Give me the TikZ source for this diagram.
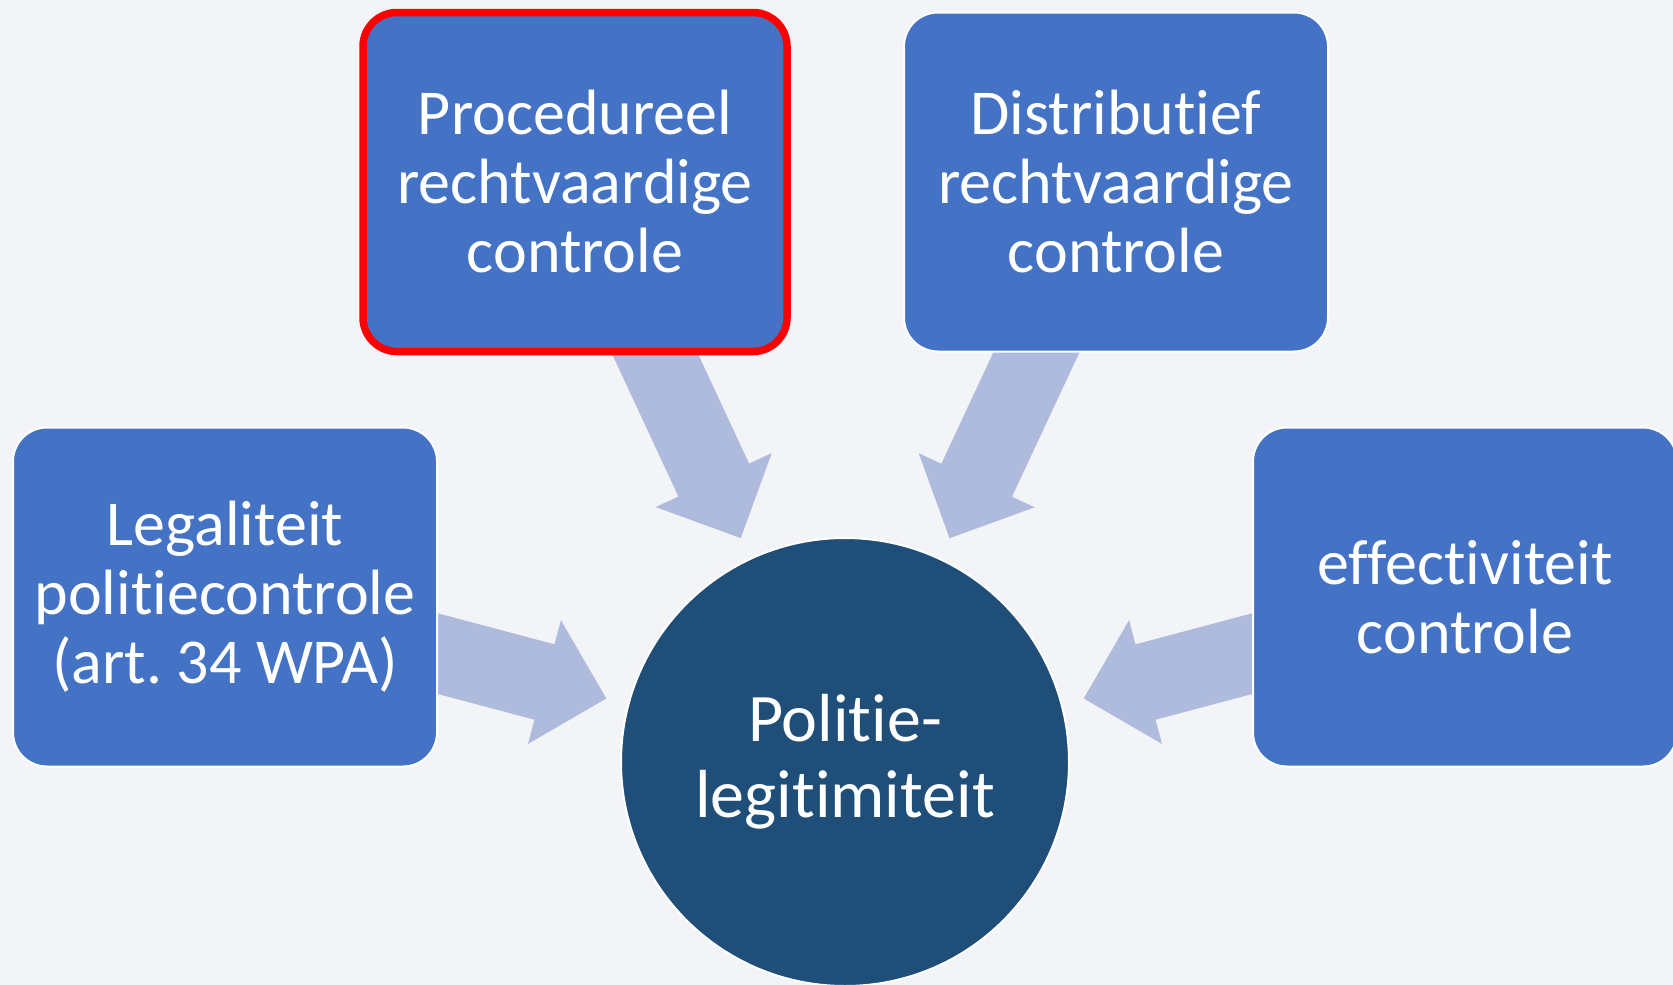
\documentclass[tikz,border=0pt]{standalone}
\usepackage{fontspec}
\setmainfont{Carlito}[Ligatures={NoCommon}]
\usepackage{tikz}
\usetikzlibrary{calc,backgrounds}
\usepackage{xcolor}
\definecolor{boxblue}{HTML}{4472C4}
\definecolor{coreblue}{HTML}{1F4E79}
\definecolor{arrowblue}{HTML}{AFBBDD}
\definecolor{bgpage}{HTML}{F3F4F8}
\frenchspacing

\begin{document}
\begin{tikzpicture}[
  x=1pt, y=-1pt,
  box/.style={rectangle,rounded corners=34pt,fill=boxblue,draw=white,line width=2pt,
    minimum width=424pt,minimum height=339pt,inner sep=0pt,align=center,text=white,
    font=\fontsize{64}{69}\selectfont},
  core/.style={circle,fill=coreblue,draw=white,line width=2pt,minimum size=448pt,
    inner sep=0pt,align=center,text=white,font=\fontsize{68}{76}\selectfont},
  flow/.style={fill=arrowblue}
  ]
\def\tipdist{247} % tip of arrow, from centre of circle
\def\shaft{39}    % half width of shaft
\def\head{64}     % half width and length of head
\useasboundingbox (0,0) rectangle (1673,985);
\node[core] (pl) at (845,762) {Politie-\\legitimiteit};                     % centre
\node[box] (leg) at (225,597) {Legaliteit\\politiecontrole\\(art. 34 WPA)};
\node[box,draw=red,line width=7.5pt] (proc) at (575,182) {Procedureel\\rechtvaardige\\controle};
\node[box] (dist) at (1116,182) {Distributief\\rechtvaardige\\controle};
\node[box] (eff) at (1465,597) {effectiviteit\\controle};
\begin{scope}[on background layer]
\fill[bgpage] (0,0) rectangle (1673,985);
\foreach \b in {leg,proc,dist,eff}{
  \coordinate (tip) at ($(pl)!\tipdist pt!(\b)$);
  \coordinate (base) at ($(tip)!\head pt!(\b)$);
  \fill[flow] ($(\b)!\shaft pt!90:(pl)$) -- ($(base)!\shaft pt!-90:(\b)$)
    -- ($(base)!\head pt!-90:(\b)$) -- (tip) -- ($(base)!\head pt!90:(\b)$)
    -- ($(base)!\shaft pt!90:(\b)$) -- ($(\b)!\shaft pt!-90:(pl)$) -- cycle;
}
\end{scope}
\end{tikzpicture}
\end{document}
